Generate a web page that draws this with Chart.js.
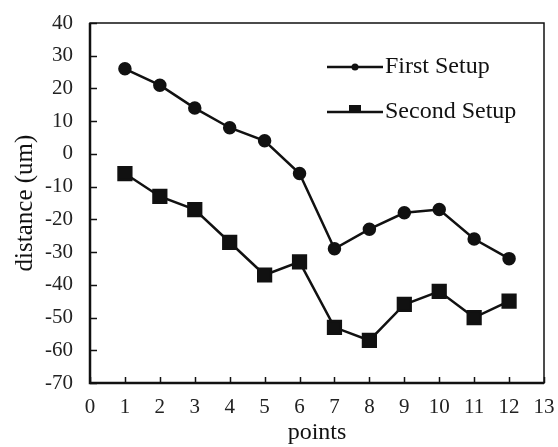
<!DOCTYPE html>
<html>
<head>
<meta charset="utf-8">
<script src="https://cdn.jsdelivr.net/npm/chart.js@4/dist/chart.umd.min.js"></script>
<style>
  html, body { margin: 0; padding: 0; background: #fff; }
  #wrap { width: 558px; height: 447px; }
</style>
</head>
<body>
<div id="wrap"><canvas id="grafico"></canvas></div>
<script>
// Dados
const pontos = [1, 2, 3, 4, 5, 6, 7, 8, 9, 10, 11, 12];
const primeiroSetup = [26, 21, 14, 8, 4, -6, -29, -23, -18, -17, -26, -32];
const segundoSetup = [-6, -13, -17, -27, -37, -33, -53, -57, -46, -42, -50, -45];
const nomesSeries = ['First Setup', 'Second Setup'];

const fonte = "'Liberation Serif', 'Times New Roman', serif";
Chart.defaults.font.family = fonte;
Chart.defaults.color = '#111';

// Marcas de escala para dentro + moldura + legenda
const molduraPlugin = {
    id: 'moldura',
    afterDraw(chart) {
        const { ctx, chartArea: a, scales } = chart;
        ctx.save();
        ctx.strokeStyle = '#111';
        ctx.lineWidth = 1.5;
        ctx.strokeRect(a.left, a.top, a.right - a.left, a.bottom - a.top);
        ctx.lineWidth = 2.5;
        ctx.beginPath();
        ctx.moveTo(a.left, a.top); ctx.lineTo(a.left, a.bottom); ctx.lineTo(a.right, a.bottom);
        ctx.stroke();
        ctx.lineWidth = 1.5;
        ctx.beginPath();
        scales.y.ticks.forEach(t => {
            const py = Math.round(scales.y.getPixelForValue(t.value)) + 0.5;
            ctx.moveTo(a.left, py); ctx.lineTo(a.left + 7, py);
        });
        scales.x.ticks.forEach(t => {
            const px = Math.round(scales.x.getPixelForValue(t.value)) + 0.5;
            ctx.moveTo(px, a.bottom); ctx.lineTo(px, a.bottom - 6);
        });
        ctx.stroke();

        // legenda
        const itens = [
            { y: a.top + 44, ds: chart.data.datasets[0] },
            { y: a.top + 89, ds: chart.data.datasets[1] }
        ];
        const x0 = 327, x1 = 383;
        itens.forEach(it => {
            ctx.strokeStyle = '#111';
            ctx.lineWidth = 2.5;
            ctx.beginPath(); ctx.moveTo(x0, it.y); ctx.lineTo(x1, it.y); ctx.stroke();
            ctx.fillStyle = '#111';
            if (it.ds.pointStyle === 'rect') {
                ctx.fillRect((x0 + x1) / 2 - 6, it.y - 7, 12, 7);
            } else {
                ctx.beginPath(); ctx.arc((x0 + x1) / 2, it.y, 3.5, 0, Math.PI * 2); ctx.fill();
            }
            ctx.font = "24px " + fonte;
            ctx.textBaseline = 'middle';
            ctx.textAlign = 'left';
            ctx.fillText(it.ds.label, x1 + 2, it.y);
        });
        ctx.restore();
    }
};

// sem folga extra dos rótulos: a área do gráfico fica onde o layout manda
function semFolga(s) {
    s.paddingTop = 0; s.paddingBottom = 0; s.paddingLeft = 0; s.paddingRight = 0;
}

const ctx = document.getElementById('grafico').getContext('2d');
new Chart(ctx, {
    type: 'line',
    data: {
        datasets: [{
            label: nomesSeries[0],
            data: pontos.map((p, i) => ({ x: p, y: primeiroSetup[i] })),
            borderColor: '#111',
            backgroundColor: '#111',
            borderWidth: 2.5,
            pointStyle: 'circle',
            pointRadius: 5.5,
            pointHoverRadius: 5.5,
            tension: 0
        }, {
            label: nomesSeries[1],
            data: pontos.map((p, i) => ({ x: p, y: segundoSetup[i] })),
            borderColor: '#111',
            backgroundColor: '#111',
            borderWidth: 2.5,
            pointStyle: 'rect',
            pointRadius: 9,
            pointHoverRadius: 9,
            tension: 0
        }]
    },
    options: {
        responsive: true,
        maintainAspectRatio: false,
        animation: false,
        layout: { padding: { top: 23, right: 14, left: 0, bottom: 0 } },
        plugins: {
            legend: { display: false },
            tooltip: { enabled: false }
        },
        scales: {
            x: {
                type: 'linear',
                min: 0, max: 13,
                grid: { display: false, drawTicks: false },
                border: { display: false },
                ticks: { stepSize: 1, padding: 12, font: { size: 21 }, color: '#222', maxRotation: 0 },
                title: { display: true, text: 'points', font: { size: 24 }, color: '#111', padding: { top: 0, bottom: 0 } },
                afterFit: s => { s.height = 64; semFolga(s); }
            },
            y: {
                min: -70, max: 40,
                grid: { display: false, drawTicks: false },
                border: { display: false },
                ticks: {
                    stepSize: 5,
                    padding: 17,
                    font: { size: 21 },
                    color: '#222',
                    callback: v => (v % 10 === 0 ? v : '')
                },
                title: { display: true, text: 'distance (um)', font: { size: 25 }, color: '#111', padding: { top: 10, bottom: 0 } },
                afterFit: s => { s.width = 90; semFolga(s); }
            }
        }
    },
    plugins: [molduraPlugin]
});
</script>
</body>
</html>
